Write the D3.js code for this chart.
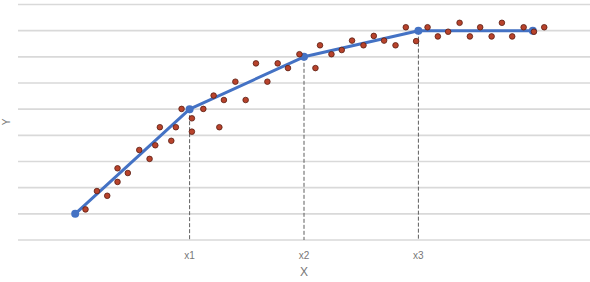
<!DOCTYPE html>
<html>
<head>
<meta charset="utf-8">
<script src="https://cdn.jsdelivr.net/npm/d3@7"></script>
<style>
  body { margin: 0; background: #fff; }
  svg { display: block; font-family: "Liberation Sans", Arial, sans-serif; }
</style>
</head>
<body>
<svg id="stage" width="590" height="282"></svg>
<script>
var svg = d3.select("#stage");

////////////////////////////// DATA

// piecewise fit line (knots)
var lineX = [0, 1, 2, 3, 4];
var lineY = [1, 5, 7, 8, 8];

// scattered observations
var dotX = [0.09, 0.19, 0.28, 0.37, 0.37, 0.46, 0.56, 0.65, 0.70, 0.74,
            0.84, 0.88, 0.93, 1.02, 1.02, 1.12, 1.21, 1.26, 1.30, 1.40,
            1.49, 1.58, 1.68, 1.77, 1.86, 1.96, 2.10, 2.14, 2.24, 2.33,
            2.42, 2.52, 2.61, 2.70, 2.80, 2.89, 2.98, 3.08, 3.17, 3.26,
            3.36, 3.45, 3.54, 3.64, 3.73, 3.82, 3.92, 4.01, 4.10];
var dotY = [1.17, 1.87, 1.69, 2.22, 2.74, 2.56, 3.44, 3.10, 3.62, 4.31,
            3.79, 4.31, 5.01, 4.65, 4.14, 5.01, 5.52, 4.31, 5.35, 6.05,
            5.35, 6.75, 6.05, 6.75, 6.57, 7.10, 6.57, 7.44, 7.10, 7.26,
            7.62, 7.44, 7.80, 7.62, 7.44, 8.13, 7.60, 8.13, 7.78, 7.96,
            8.30, 7.78, 8.13, 7.78, 8.30, 7.78, 8.13, 7.96, 8.13];

// knots that get a dashed drop line and a label
var knotX = [1, 2, 3];
var knotLabels = ["x1", "x2", "x3"];

var gridValues = [0, 1, 2, 3, 4, 5, 6, 7, 8, 9];

////////////////////////////// SCALES

var x = d3.scaleLinear().domain([-0.5, 4.5]).range([18, 590]);
var y = d3.scaleLinear().domain([0, 9]).range([240, 4.5]);

////////////////////////////// GRID

svg.append("g")
  .attr("class", "grid")
  .selectAll("line")
  .data(gridValues)
  .enter().append("line")
    .attr("x1", x(-0.5))
    .attr("x2", x(4.5))
    .attr("y1", function(d){ return y(d); })
    .attr("y2", function(d){ return y(d); })
    .attr("stroke", "#d9d9d9")
    .attr("stroke-width", 1.6);

////////////////////////////// DROP LINES + LABELS

var knotData = knotX.map(function(k, i){
  return { x: k, y: lineY[lineX.indexOf(k)], label: knotLabels[i] };
});

svg.append("g")
  .selectAll("line")
  .data(knotData)
  .enter().append("line")
    .attr("x1", function(d){ return x(d.x); })
    .attr("x2", function(d){ return x(d.x); })
    .attr("y1", function(d){ return y(d.y); })
    .attr("y2", y(0))
    .attr("stroke", "#5f5f5f")
    .attr("stroke-width", 1)
    .attr("stroke-dasharray", "4,2");

svg.append("g")
  .selectAll("text")
  .data(knotData)
  .enter().append("text")
    .attr("x", function(d){ return x(d.x); })
    .attr("y", 259)
    .attr("text-anchor", "middle")
    .attr("font-size", 10)
    .attr("fill", "#777")
    .text(function(d){ return d.label; });

// axis titles
svg.append("text")
  .attr("x", x(2))
  .attr("y", 276)
  .attr("text-anchor", "middle")
  .attr("font-size", 12)
  .attr("fill", "#777")
  .text("X");

svg.append("text")
  .attr("transform", "translate(10,122) rotate(-90)")
  .attr("text-anchor", "middle")
  .attr("font-size", 10)
  .attr("fill", "#777")
  .text("Y");

////////////////////////////// FIT LINE

var linePts = lineX.map(function(v, i){ return [v, lineY[i]]; });

var path = d3.line()
  .x(function(d){ return x(d[0]); })
  .y(function(d){ return y(d[1]); });

svg.append("path")
  .datum(linePts)
  .attr("d", path)
  .attr("fill", "none")
  .attr("stroke", "#4472c4")
  .attr("stroke-width", 3)
  .attr("stroke-linejoin", "round");

svg.append("g")
  .selectAll("circle")
  .data(linePts)
  .enter().append("circle")
    .attr("cx", function(d){ return x(d[0]); })
    .attr("cy", function(d){ return y(d[1]); })
    .attr("r", 4)
    .attr("fill", "#4472c4");

////////////////////////////// DOTS

var dots = dotX.map(function(v, i){ return [v, dotY[i]]; });

svg.append("g")
  .selectAll("circle")
  .data(dots)
  .enter().append("circle")
    .attr("cx", function(d){ return x(d[0]); })
    .attr("cy", function(d){ return y(d[1]); })
    .attr("r", 2.8)
    .attr("fill", "#b8432c")
    .attr("stroke", "#5a1d12")
    .attr("stroke-width", 0.8);
</script>
</body>
</html>
